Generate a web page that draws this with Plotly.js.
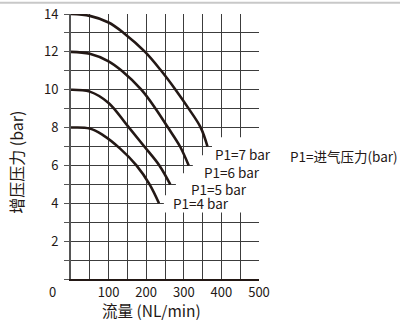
<!DOCTYPE html>
<html>
<head>
<meta charset="utf-8">
<script src="https://cdn.plot.ly/plotly-3.0.1.min.js"></script>
<style>html,body{margin:0;padding:0;background:#fff;}#chart{width:400px;height:320px;}</style>
</head>
<body>
<div id="chart"></div>
<script>
// ---- data ----
const flow7 = [0, 50, 100, 140, 197, 240, 278, 313, 345, 363];
const boost7 = [14, 13.9, 13.55, 13, 12, 11, 10, 9, 8, 7];
const flow6 = [0, 50, 100, 135, 187, 225, 258, 290, 313];
const boost6 = [12, 11.9, 11.5, 11, 10, 9, 8, 7, 6];
const flow5 = [0, 50, 100, 150, 195, 235, 264];
const boost5 = [10, 9.9, 9.3, 8.1, 7, 6, 5];
const flow4 = [0, 50, 85, 130, 174, 209, 234];
const boost4 = [8, 7.95, 7.6, 6.9, 6, 5, 4];
const seriesNames = ['P1=7 bar', 'P1=6 bar', 'P1=5 bar', 'P1=4 bar'];
const xTickVals = [0, 50, 100, 150, 200, 250, 300, 350, 400, 450, 500];
const xTickText = ['', '', '100', '', '200', '', '300', '', '400', '', '500'];
const yTickVals = [0, 1, 2, 3, 4, 5, 6, 7, 8, 9, 10, 11, 12, 13, 14];
const yTickText = ['', '', '2', '', '4', '', '6', '', '8', '', '10', '', '12', '', '14'];
const xTitle = '流量 (NL/min)';
const yTitle = '增压压力 (bar)';
const noteText = 'P1=进气压力(bar)';

const X_RANGE = [0, 500];
const Y_RANGE = [0, 14];
const FONT = '"Noto Sans CJK SC", "Noto Sans", sans-serif';
const INK = '#231815';

const flows = [flow7, flow6, flow5, flow4];
const boosts = [boost7, boost6, boost5, boost4];
const traces = flows.map((f, i) => ({
  x: f, y: boosts[i], name: seriesNames[i], type: 'scatter', mode: 'lines',
  line: {color: INK, width: 2.6, shape: 'spline', smoothing: 1},
  hoverinfo: 'skip', showlegend: false
}));

// white mask behind the curve labels (in axis units, converted to paper)
const maskPts = [[375,7.49],[560,7.49],[560,3.52],[247,3.52],[247,4.42],[279,4.42],[279,5.59],[324,5.59],[324,6.54],[375,6.54]];
function px(v){return (v - X_RANGE[0])/(X_RANGE[1]-X_RANGE[0]);}
function py(v){return (v - Y_RANGE[0])/(Y_RANGE[1]-Y_RANGE[0]);}
const maskPath = 'M' + maskPts.map(p => px(p[0]).toFixed(4) + ',' + py(p[1]).toFixed(4)).join(' L') + ' Z';

// label positions (paper)
const labelPos = [[0.915, 0.4726], [0.856, 0.4027], [0.787, 0.3384], [0.694, 0.2854]];
const annotations = seriesNames.map((t, i) => ({
  text: t, xref: 'paper', yref: 'paper', x: labelPos[i][0], y: labelPos[i][1],
  xanchor: 'center', yanchor: 'middle', showarrow: false,
  font: {family: FONT, size: 13.5, color: INK}
}));
annotations.push({text: noteText, xref: 'paper', yref: 'paper', x: 1.452, y: 0.4631,
  xanchor: 'center', yanchor: 'middle', showarrow: false, font: {family: FONT, size: 13.5, color: INK}});
annotations.push({text: '0', xref: 'paper', yref: 'paper', x: -0.101, y: -0.047,
  xanchor: 'center', yanchor: 'middle', showarrow: false, font: {family: FONT, size: 13, color: INK}});
annotations.push({text: xTitle, xref: 'paper', yref: 'paper', x: 0.428, y: -0.117,
  xanchor: 'center', yanchor: 'middle', showarrow: false, font: {family: FONT, size: 15.5, color: INK}});
annotations.push({text: yTitle, xref: 'paper', yref: 'paper', x: -0.293, y: 0.442, textangle: -90,
  xanchor: 'center', yanchor: 'middle', showarrow: false, font: {family: FONT, size: 16, color: INK}});

const gridColor = '#3c3c3c';
const layout = {
  width: 400, height: 320,
  margin: {l: 71, r: 141, t: 14, b: 41, pad: 0},
  paper_bgcolor: '#fff', plot_bgcolor: '#fff',
  showlegend: false,
  xaxis: {
    range: X_RANGE, tickmode: 'array', tickvals: xTickVals, ticktext: xTickText,
    showgrid: true, gridcolor: gridColor, gridwidth: 1, zeroline: false,
    showline: true, linecolor: INK, linewidth: 2,
    ticks: '',
    tickfont: {family: FONT, size: 13, color: INK}, fixedrange: true
  },
  yaxis: {
    range: Y_RANGE, tickmode: 'array', tickvals: yTickVals, ticktext: yTickText,
    showgrid: true, gridcolor: gridColor, gridwidth: 1, zeroline: false,
    showline: true, linecolor: '#555', linewidth: 2,
    ticks: 'outside', ticklen: 5, tickcolor: '#555', tickwidth: 1, ticklabelstandoff: 3,
    tickfont: {family: FONT, size: 13, color: INK}, fixedrange: true
  },
  shapes: [
    {type: 'path', xref: 'paper', yref: 'paper', path: maskPath, fillcolor: '#fff', line: {width: 0}, layer: 'above'},
    {type: 'line', xref: 'paper', yref: 'paper', x0: -0.4, x1: 1.8, y0: 1.042, y1: 1.042, line: {color: '#c8c8c8', width: 2}, layer: 'above'}
  ],
  annotations: annotations,
  font: {family: FONT, color: INK}
};

Plotly.newPlot('chart', traces, layout, {staticPlot: true, displayModeBar: false});
</script>
</body>
</html>
